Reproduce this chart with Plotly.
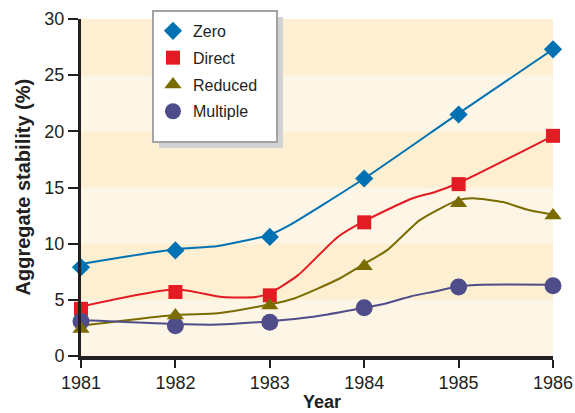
import plotly.graph_objects as go

years = [1981, 1982, 1983, 1984, 1985, 1986]
series_names = ["Zero", "Direct", "Reduced", "Multiple"]
zero_vals = [7.9, 9.4, 10.6, 15.8, 21.5, 27.3]
direct_vals = [4.2, 5.7, 5.4, 11.9, 15.3, 19.6]
reduced_vals = [2.4, 3.6, 4.5, 8.0, 13.6, 12.5]
multiple_vals = [3.1, 2.7, 3.0, 4.3, 6.15, 6.25]

# smoothed line paths
zero_line_x = [1981, 1982, 1982.45, 1983, 1983.2, 1984, 1985, 1986]
zero_line_y = [8.2, 9.5, 9.8, 10.8, 11.6, 15.8, 21.6, 27.3]
direct_line_x = [1981, 1982, 1982.5, 1982.85, 1983, 1983.3, 1983.72, 1984, 1984.5, 1984.75, 1985, 1986]
direct_line_y = [4.4, 5.95, 5.25, 5.25, 5.6, 7.2, 10.6, 12.0, 14.0, 14.6, 15.4, 19.6]
reduced_line_x = [1981, 1982, 1982.45, 1983, 1983.25, 1983.74, 1984, 1984.24, 1984.59, 1985, 1985.15, 1985.47, 1985.74, 1986]
reduced_line_y = [2.7, 3.65, 3.8, 4.6, 5.1, 6.9, 8.2, 9.4, 12.1, 13.9, 14.05, 13.7, 13.0, 12.6]
multiple_line_x = [1981, 1982, 1982.45, 1983, 1983.46, 1984, 1984.24, 1984.49, 1984.75, 1985, 1985.25, 1986]
multiple_line_y = [3.2, 2.85, 2.8, 3.1, 3.5, 4.3, 4.7, 5.3, 5.75, 6.2, 6.35, 6.35]

y_ticks = [0, 5, 10, 15, 20, 25, 30]
dark_bands = [(5, 10), (15, 20), (25, 30)]
x_title = "Year"
y_title = "Aggregate stability (%)"

colors = {"Zero": "#0071b3", "Direct": "#e31b23", "Reduced": "#7a6c00", "Multiple": "#4f4c8a"}
symbols = {"Zero": "diamond", "Direct": "square", "Reduced": "triangle-up", "Multiple": "circle"}
sizes = {"Zero": 14, "Direct": 14, "Reduced": 15, "Multiple": 17}

lines = {
    "Zero": (zero_line_x, zero_line_y),
    "Direct": (direct_line_x, direct_line_y),
    "Reduced": (reduced_line_x, reduced_line_y),
    "Multiple": (multiple_line_x, multiple_line_y),
}
points = {"Zero": zero_vals, "Direct": direct_vals, "Reduced": reduced_vals, "Multiple": multiple_vals}

FONT = "Liberation Sans, Arial"
TEXT = "#231f20"

fig = go.Figure()
for name in series_names:
    lx, ly = lines[name]
    fig.add_trace(go.Scatter(x=lx, y=ly, mode="lines", showlegend=False, hoverinfo="skip",
                             line=dict(color=colors[name], width=2, shape="spline", smoothing=0.6),
                             cliponaxis=False))

draw_order = ["Zero", "Direct", "Multiple", "Reduced"]
ranks = {n: i + 1 for i, n in enumerate(series_names)}
for name in draw_order:
    fig.add_trace(go.Scatter(x=years, y=points[name], mode="markers", name=name,
                             legendgroup=name, legendrank=ranks[name],
                             marker=dict(color=colors[name], symbol=symbols[name], size=sizes[name],
                                         line=dict(width=0)),
                             cliponaxis=False))

shapes = []
for y0, y1 in dark_bands:
    shapes.append(dict(type="rect", xref="paper", yref="y", x0=0, x1=1, y0=y0, y1=y1,
                       fillcolor="#fdefd2", line=dict(width=0), layer="below"))
# legend shadow and box
shapes.append(dict(type="rect", xref="paper", yref="paper", x0=0.165, x1=0.428, y0=0.617, y1=1.006,
                   fillcolor="#d2d2d2", line=dict(width=0), layer="above"))
shapes.append(dict(type="rect", xref="paper", yref="paper", x0=0.1525, x1=0.4153, y0=0.635, y1=1.0237,
                   fillcolor="white", line=dict(color="#a3a3a3", width=2), layer="above"))

annotations = [
    dict(text="<b>%s</b>" % y_title, xref="paper", yref="paper", x=0, y=0.5,
         xanchor="center", yanchor="middle", xshift=-59, textangle=-90, showarrow=False,
         font=dict(family=FONT, size=20, color=TEXT)),
    dict(text="<b>%s</b>" % x_title, xref="paper", yref="paper", x=0.51, y=0,
         xanchor="center", yanchor="middle", yshift=-46, showarrow=False,
         font=dict(family=FONT, size=18, color=TEXT)),
]

fig.update_layout(
    width=575, height=413,
    margin=dict(l=81, r=22, t=19, b=57),
    paper_bgcolor="white",
    plot_bgcolor="#fdf5e6",
    font=dict(family=FONT, size=18, color=TEXT),
    shapes=shapes,
    annotations=annotations,
    showlegend=True,
    legend=dict(x=0.1525, y=1.015, xanchor="left", yanchor="top",
                bgcolor="rgba(0,0,0,0)", borderwidth=0,
                font=dict(family=FONT, size=16, color=TEXT),
                tracegroupgap=3, traceorder="grouped"),
    xaxis=dict(range=[1981, 1986], tickvals=years, ticktext=[str(y) for y in years],
               showgrid=False, zeroline=False, showline=True, linecolor=TEXT, linewidth=3.5,
               ticks="outside", ticklen=8, tickwidth=1.5, tickcolor=TEXT, automargin=False),
    yaxis=dict(range=[0, 30], tickvals=y_ticks, showgrid=False, zeroline=False,
               showline=True, linecolor=TEXT, linewidth=3,
               ticks="outside", ticklen=10, tickwidth=1.5, tickcolor=TEXT, automargin=False),
)

fig.write_html("out.html", config={"displayModeBar": False},
               post_script="document.body.style.margin='0';document.body.style.padding='0';document.body.style.overflow='hidden';")
